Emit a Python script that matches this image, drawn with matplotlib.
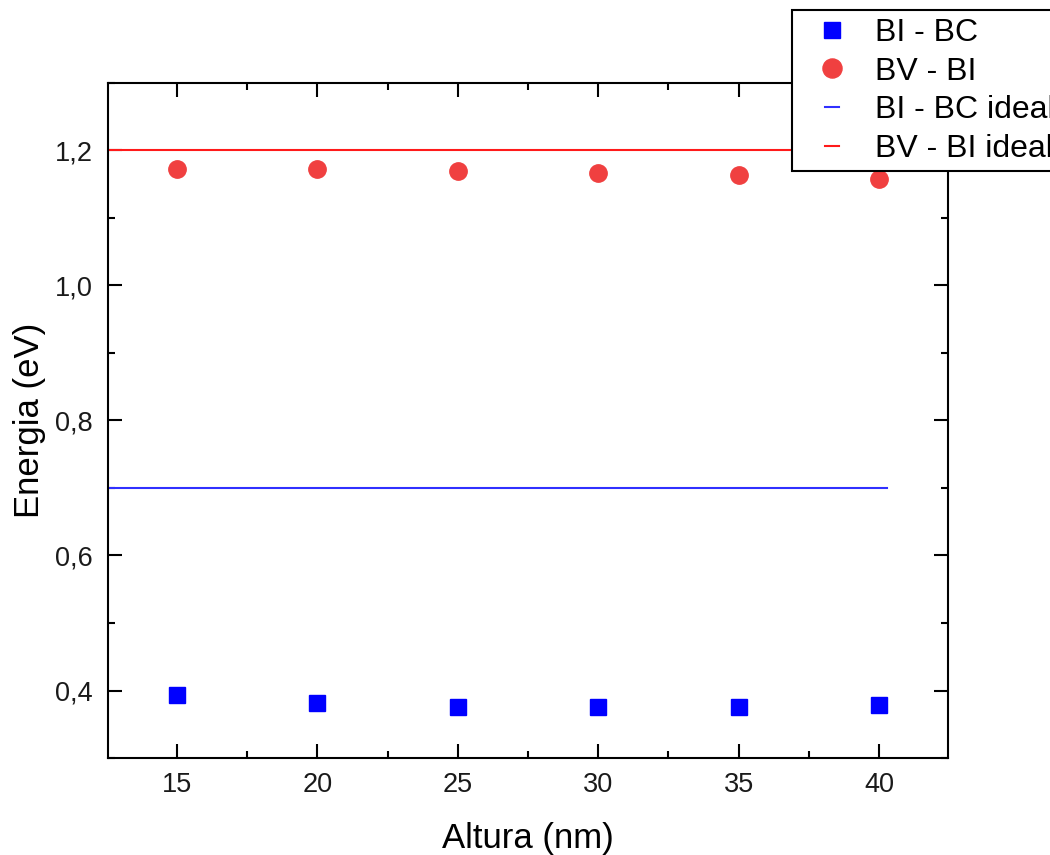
import numpy as np
import matplotlib
matplotlib.use('Agg')
import matplotlib.pyplot as plt
from matplotlib.patches import Rectangle
from matplotlib.ticker import MultipleLocator, FuncFormatter

plt.rcParams['font.family'] = ['Liberation Sans', 'DejaVu Sans']

# Altura de los puntos (nm) y energias (eV)
altura = [15, 20, 25, 30, 35, 40]
bi_bc = [0.394, 0.382, 0.376, 0.376, 0.376, 0.379]
bv_bi = [1.172, 1.172, 1.170, 1.166, 1.163, 1.158]
bi_bc_ideal = 0.70
bv_bi_ideal = 1.20
ideal_x = [12.5, 40.3]

W, H = 1050, 855
fig = plt.figure(figsize=(W / 100, H / 100), dpi=100)
ax = fig.add_axes([108 / W, 1 - 758 / H, 840 / W, 675 / H])

ax.plot(altura, bi_bc, 's', color='#0000ff', markersize=11, label='BI - BC')
ax.plot(altura, bv_bi, 'o', color='#f04040', markersize=12.5, label='BV - BI')
ax.plot(ideal_x, [bi_bc_ideal] * 2, '-', color='#3030ff', lw=1.5, label='BI - BC ideal')
ax.plot(ideal_x, [bv_bi_ideal] * 2, '-', color='#ff1a1a', lw=1.5, label='BV - BI ideal')

ax.set_xlim(12.54, 42.46)
ax.set_ylim(0.3, 1.3)
ax.xaxis.set_major_locator(MultipleLocator(5))
ax.xaxis.set_minor_locator(MultipleLocator(2.5))
ax.yaxis.set_major_locator(MultipleLocator(0.2))
ax.yaxis.set_minor_locator(MultipleLocator(0.1))
ax.yaxis.set_major_formatter(FuncFormatter(lambda v, p: ('%.1f' % v).replace('.', ',')))
ax.tick_params(which='both', direction='in', top=True, right=True, labelsize=19.5,
               width=1.5, labelcolor='#1a1a1a')
ax.tick_params(which='major', length=10)
ax.tick_params(which='minor', length=5)
ax.tick_params(axis='x', pad=10)
ax.tick_params(axis='y', pad=11)
for s in ax.spines.values():
    s.set_linewidth(1.5)

ax.set_xlabel('Altura (nm)', fontsize=25, labelpad=17)
ax.set_ylabel('Energia (eV)', fontsize=25, labelpad=6)

# caja de la leyenda (fuera del area de ejes, cortada por el borde)
box = Rectangle((792 / W, 1 - 171 / H), 300 / W, 161 / H, transform=fig.transFigure,
                facecolor='white', edgecolor='black', lw=1.5, zorder=4, clip_on=False)
fig.add_artist(box)

leg = fig.legend(loc='upper left', bbox_to_anchor=(825 / W, 1 - 18 / H), fontsize=23,
                 frameon=False, handlelength=0.45, handletextpad=1.1, borderpad=0,
                 borderaxespad=0, labelspacing=0.27, markerscale=1.1)
leg.set_zorder(5)

fig.savefig('out.png', dpi=100)
